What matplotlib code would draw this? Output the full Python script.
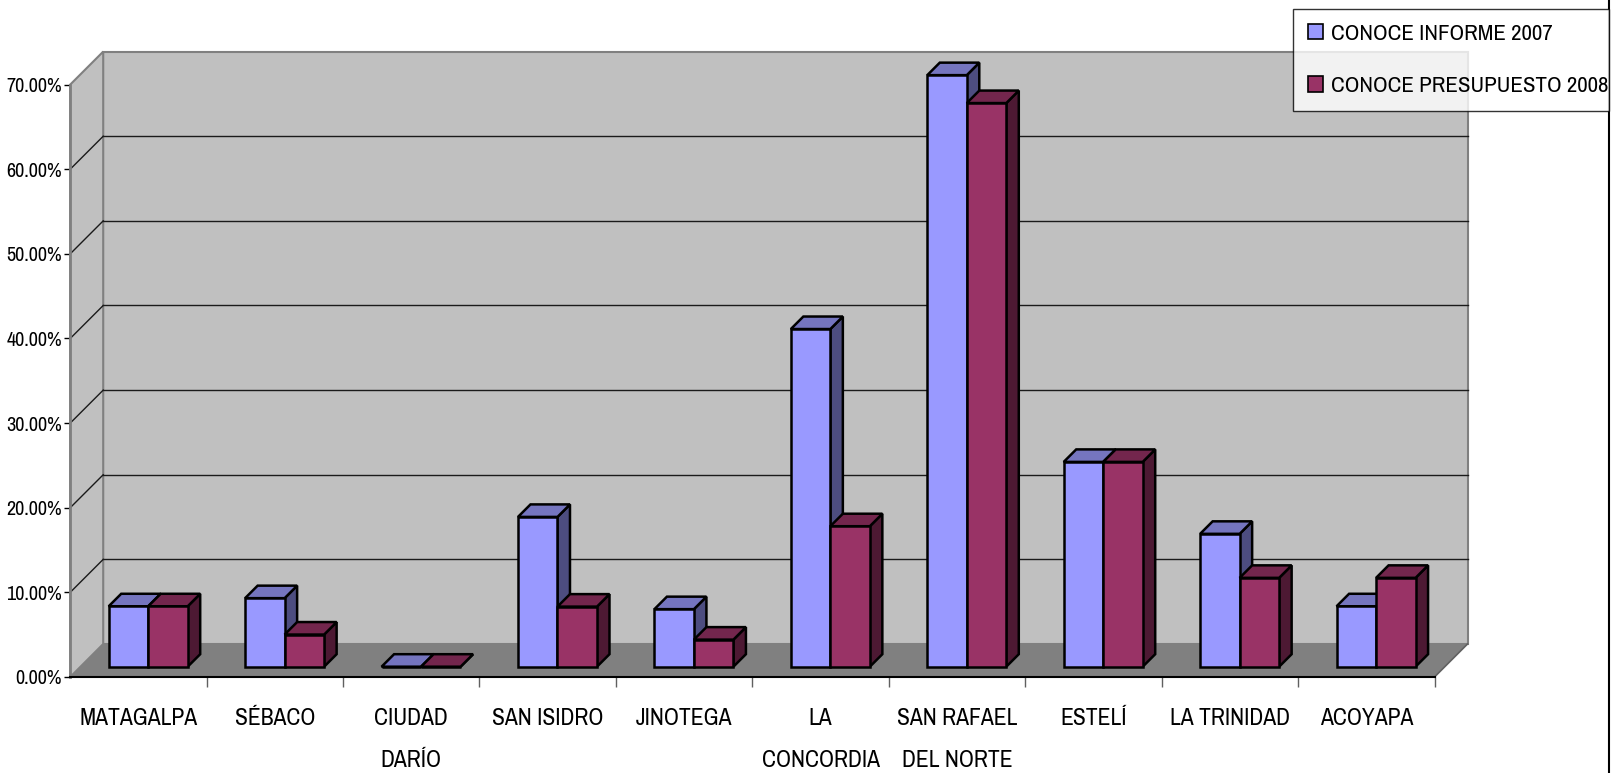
import matplotlib
matplotlib.use("Agg")
import matplotlib.pyplot as plt
from matplotlib.patches import Polygon, Patch, Rectangle
from matplotlib.lines import Line2D

# narrow sans like the original Arial Narrow; DejaVu condensed as fallback
plt.rcParams["font.family"] = ["Archivo Narrow", "DejaVu Sans"]
plt.rcParams["font.stretch"] = "condensed"

categories = ["MATAGALPA", "SÉBACO", "CIUDAD\nDARÍO", "SAN ISIDRO", "JINOTEGA",
              "LA\nCONCORDIA", "SAN RAFAEL\nDEL NORTE", "ESTELÍ", "LA TRINIDAD", "ACOYAPA"]
informe_2007 = [7.14, 8.10, 0.0, 17.70, 6.80, 39.90, 69.90, 24.20, 15.70, 7.14]
presupuesto_2008 = [7.14, 3.80, 0.0, 7.10, 3.20, 16.60, 66.60, 24.20, 10.50, 10.50]
series_names = ["CONOCE INFORME 2007", "CONOCE PRESUPUESTO 2008"]
yticks = [0, 10, 20, 30, 40, 50, 60, 70]

# face colours: front, top, side
blue = ("#9999FF", "#7575BF", "#4D4D80")
red = ("#993366", "#73264D", "#4D1933")

W, H = 1618, 773
fig = plt.figure(figsize=(W / 100, H / 100), dpi=100)
fig.patch.set_facecolor("white")

# front plane of the 3D box in pixels
x0, x1 = 70.2, 1434.5
y0, y1 = 677.0, 84.6
ax = fig.add_axes([x0 / W, 1 - y0 / H, (x1 - x0) / W, (y0 - y1) / H])
ax.set_xlim(0, 10)
ax.set_ylim(0, 70)
ax.patch.set_visible(False)

ppx = (x1 - x0) / 10.0   # pixels per category
ppy = (y0 - y1) / 70.0   # pixels per percent

def dxy(px, py):
    return px / ppx, py / ppy

DX, DY = dxy(33, 33)          # depth of the whole box
BX, BY = dxy(10.3, 10.3)      # bar plane offset
SX, SY = dxy(12.5, 12.5)      # bar depth
bar_off = 28.2 / ppx
bar_w = 39.5 / ppx

# walls and floor
wall = "#C0C0C0"
edge = "#808080"
ax.add_patch(Rectangle((DX, DY), 10, 70, facecolor=wall, edgecolor=edge, lw=1.5,
                       clip_on=False, zorder=0))
ax.add_patch(Polygon([(0, 0), (DX, DY), (DX, 70 + DY), (0, 70)], closed=True,
                     facecolor=wall, edgecolor=edge, lw=1.5, clip_on=False, zorder=0))
ax.add_patch(Polygon([(0, 0), (10, 0), (10 + DX, DY), (DX, DY)], closed=True,
                     facecolor="#808080", edgecolor="none", clip_on=False, zorder=1))
ax.plot([10, 10 + DX], [0, DY], color="#606060", lw=1.2, clip_on=False, zorder=1)

# gridlines on back and side walls
for v in yticks[1:-1]:
    ax.plot([DX, 10 + DX], [v + DY, v + DY], color="#1a1a1a", lw=1.0, clip_on=False, zorder=1)
    ax.plot([0, DX], [v, v + DY], color="#1a1a1a", lw=1.0, clip_on=False, zorder=1)

# bars, drawn back to front like the 3D renderer
z = 3
for i in range(len(categories)):
    for j, (vals, cols) in enumerate(((informe_2007, blue), (presupuesto_2008, red))):
        h = vals[i]
        left = i + BX + bar_off + j * bar_w
        right = left + bar_w
        base = BY
        top = BY + h
        side = Polygon([(right, base), (right + SX, base + SY), (right + SX, top + SY), (right, top)],
                       closed=True, facecolor=cols[2], edgecolor="black", lw=1.8,
                       joinstyle="miter", clip_on=False, zorder=z)
        cap = Polygon([(left, top), (right, top), (right + SX, top + SY), (left + SX, top + SY)],
                      closed=True, facecolor=cols[1], edgecolor="black", lw=1.8,
                      joinstyle="miter", clip_on=False, zorder=z + 1)
        ax.add_patch(side)
        ax.add_patch(cap)
        b = ax.bar(left, h, width=bar_w, bottom=base, align="edge", color=cols[0],
                   edgecolor="black", linewidth=1.8, clip_on=False)
        b.patches[0].set_zorder(z + 2)
        z += 3

# axes: spines and ticks
for s in ("top", "right"):
    ax.spines[s].set_visible(False)
ax.spines["left"].set_color("#808080")
ax.spines["left"].set_linewidth(2)
ax.spines["bottom"].set_color("black")
ax.spines["bottom"].set_linewidth(1.5)
for s in ("left", "bottom"):
    ax.spines[s].set_zorder(2)

ax.set_yticks(yticks)
ax.set_yticklabels([f"{v:.2f}%" for v in yticks])
ax.tick_params(axis="y", direction="out", length=4, width=1, color="black",
               labelsize=14.5, pad=2)

ax.set_xticks(range(1, 11))
ax.set_xticklabels([])
ax.tick_params(axis="x", which="major", direction="out", length=7, width=1,
               color="#606060")

for i, lab in enumerate(categories):
    for k, line in enumerate(lab.split("\n")):
        ax.annotate(line, xy=(i + 0.5, 0), xycoords="data",
                    xytext=(0, -(725 - y0 + 42 * k) * 0.72), textcoords="offset points",
                    ha="center", va="baseline", fontsize=17, annotation_clip=False)

handles = [Patch(facecolor=blue[0], edgecolor="black", lw=1.2),
           Patch(facecolor=red[0], edgecolor="black", lw=1.2)]
leg = fig.legend(handles, series_names, loc="upper left", mode="expand",
                 bbox_to_anchor=(1293 / W, 1 - 110 / H, 316 / W, 101 / H),
                 bbox_transform=fig.transFigure,
                 fontsize=16.5, frameon=True, fancybox=False, borderaxespad=0,
                 borderpad=0.65, handlelength=0.65, handleheight=0.65,
                 handletextpad=0.35, labelspacing=1.4)
leg.get_frame().set_edgecolor("black")
leg.get_frame().set_linewidth(1.0)

fig.add_artist(Line2D([1609 / W, 1609 / W], [0, 1], color="black", lw=1.5,
                      transform=fig.transFigure))

fig.savefig("out.png", dpi=100)
